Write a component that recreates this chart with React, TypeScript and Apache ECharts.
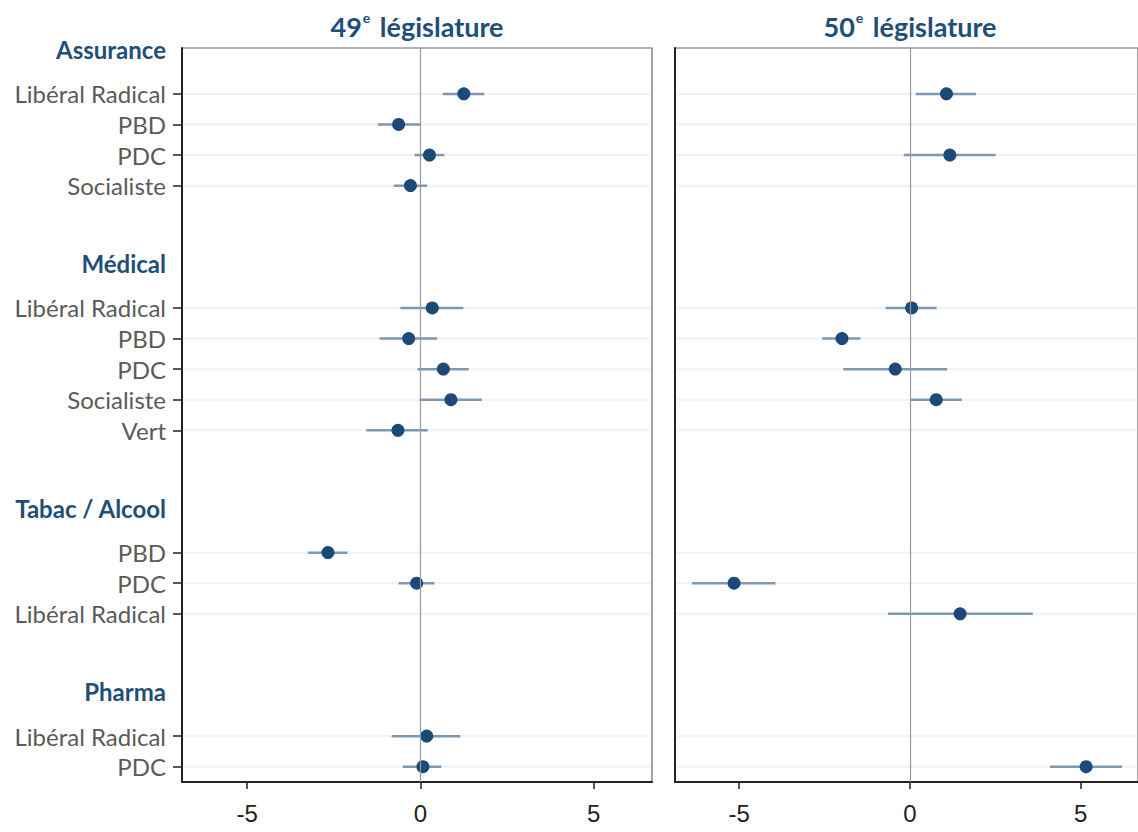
import React, { useEffect, useRef } from "react";
import * as echarts from "echarts";

// ---- data ----
const groups = ["Assurance", "Médical", "Tabac / Alcool", "Pharma"];
const assuranceParties = ["Libéral Radical", "PBD", "PDC", "Socialiste"];
const medicalParties = ["Libéral Radical", "PBD", "PDC", "Socialiste", "Vert"];
const tabacParties = ["PBD", "PDC", "Libéral Radical"];
const pharmaParties = ["Libéral Radical", "PDC"];
const partiesByGroup = [assuranceParties, medicalParties, tabacParties, pharmaParties];

// order: Assurance(4), Médical(5), Tabac(3), Pharma(2)
const est49 = [1.25, -0.63, 0.26, -0.29, 0.34, -0.34, 0.66, 0.88, -0.65, -2.67, -0.11, null, 0.18, 0.07];
const lo49 = [0.64, -1.23, -0.17, -0.77, -0.58, -1.18, -0.08, -0.03, -1.56, -3.25, -0.63, null, -0.83, -0.51];
const hi49 = [1.84, 0.0, 0.69, 0.19, 1.24, 0.48, 1.39, 1.77, 0.21, -2.11, 0.4, null, 1.15, 0.6];

const est50 = [1.07, null, 1.17, null, 0.05, -1.99, -0.43, 0.77, null, null, -5.15, 1.47, null, 5.16];
const lo50 = [0.17, null, -0.18, null, -0.71, -2.57, -1.95, 0.01, null, null, -6.38, -0.64, null, 4.1];
const hi50 = [1.94, null, 2.51, null, 0.78, -1.45, 1.09, 1.52, null, null, -3.94, 3.6, null, 6.21];

const xTicks = [-5, 0, 5];
const panelTitles = [["49", "e", " législature"], ["50", "e", " législature"]];

// build category slots: header, items..., two gaps between groups
const slots: string[] = [];
const itemSlotIndex: number[] = [];
groups.forEach((g, gi) => {
  if (gi > 0) {
    slots.push("gap" + gi + "a");
    slots.push("gap" + gi + "b");
  }
  slots.push("H|" + g);
  partiesByGroup[gi].forEach((p) => {
    itemSlotIndex.push(slots.length);
    slots.push("I|" + g + "|" + p);
  });
});

const DOT = "#1b4a78";
const BAR = "#7d98b3";
const TITLE_BLUE = "#1f4e79";
const LABEL_FONT = "Lato";

function labelFormatter(v: string) {
  if (v.startsWith("H|")) return "{h|" + v.slice(2) + "}";
  if (v.startsWith("I|")) return "{p|" + v.split("|")[2] + "}";
  return "";
}

export default function App() {
  const ref = useRef<HTMLDivElement>(null);
  useEffect(() => {
    document.body.style.margin = "0";
    const chart = echarts.init(ref.current!, null, { renderer: "svg" });

    const grids = [
      { left: 182, top: 48, width: 470, height: 734 },
      { left: 675, top: 48, width: 470, height: 734 },
    ].map((g) => ({ ...g, show: true, borderColor: "#666", borderWidth: 1.2, backgroundColor: "#fff" }));

    const xAxes = [0, 1].map((i) => ({
      type: "value",
      gridIndex: i,
      min: -6.88,
      max: 6.68,
      axisLine: { show: true, onZero: false, lineStyle: { color: "#222", width: 2 } },
      axisTick: { show: true, customValues: xTicks, length: 7, lineStyle: { color: "#222", width: 1.5 } },
      axisLabel: {
        customValues: xTicks,
        fontSize: 24,
        color: "#222",
        margin: 19,
        fontFamily: "Liberation Sans",
      },
      splitLine: { show: false },
    }));

    const yAxes = [0, 1].map((i) => ({
      type: "category",
      gridIndex: i,
      inverse: true,
      data: slots,
      axisLine: { show: true, onZero: false, lineStyle: { color: "#222", width: 2 } },
      axisTick: {
        show: i === 0,
        alignWithLabel: true,
        length: 9,
        interval: (_idx: number, v: string) => v.startsWith("I|"),
        lineStyle: { color: "#222", width: 1.5 },
      },
      axisLabel: {
        show: i === 0,
        interval: 0,
        margin: 16,
        formatter: labelFormatter,
        rich: {
          h: {
            fontFamily: LABEL_FONT,
            fontWeight: "bold",
            fontSize: 24,
            color: TITLE_BLUE,
            padding: [0, 0, 28, 0],
          },
          p: { fontFamily: LABEL_FONT, fontSize: 24, color: "#5a5a5a" },
        },
      },
      splitLine: { show: false },
    }));

    const series: any[] = [];
    const panels = [
      [est49, lo49, hi49],
      [est50, lo50, hi50],
    ];
    panels.forEach(([est, lo, hi], pi) => {
      // faint row gridlines
      series.push({
        type: "custom",
        xAxisIndex: pi,
        yAxisIndex: pi,
        silent: true,
        z: 1,
        data: itemSlotIndex.map((s) => [0, s]),
        renderItem: (params: any, api: any) => {
          const p = api.coord([0, api.value(1)]);
          const cs = params.coordSys;
          return {
            type: "line",
            shape: { x1: cs.x + 2, y1: p[1], x2: cs.x + cs.width - 2, y2: p[1] },
            style: { stroke: "#f1f1f1", lineWidth: 2 },
          };
        },
      });
      // error bars
      series.push({
        type: "custom",
        xAxisIndex: pi,
        yAxisIndex: pi,
        silent: true,
        z: 3,
        data: itemSlotIndex
          .map((s, k) => (lo[k] === null ? null : [lo[k], hi[k], s]))
          .filter((d) => d !== null),
        encode: { x: [0, 1], y: 2 },
        renderItem: (_params: any, api: any) => {
          const a = api.coord([api.value(0), api.value(2)]);
          const b = api.coord([api.value(1), api.value(2)]);
          return {
            type: "line",
            shape: { x1: a[0], y1: a[1], x2: b[0], y2: b[1] },
            style: { stroke: BAR, lineWidth: 2.5 },
          };
        },
      });
      // points
      series.push({
        type: "scatter",
        xAxisIndex: pi,
        yAxisIndex: pi,
        z: 4,
        symbolSize: 13,
        itemStyle: { color: DOT, opacity: 1 },
        data: itemSlotIndex
          .map((s, k) => (est[k] === null ? null : [est[k], s]))
          .filter((d) => d !== null),
        markLine: {
          silent: true,
          symbol: "none",
          label: { show: false },
          lineStyle: { color: "#9a9a9a", width: 1.2, type: "solid", opacity: 1 },
          emphasis: { disabled: true },
          data: [{ xAxis: 0 }],
        },
      });
    });

    const titleCenters = [417, 910];
    const graphic = panelTitles.map((t, i) => ({
      type: "text",
      x: titleCenters[i],
      y: 26,
      style: {
        text: "{n|" + t[0] + "}{s|" + t[1] + "}{n|" + t[2] + "}",
        align: "center",
        verticalAlign: "middle",
        fill: TITLE_BLUE,
        rich: {
          n: { fontFamily: LABEL_FONT, fontWeight: "bold", fontSize: 27, fill: TITLE_BLUE, lineHeight: 32 },
          s: { fontFamily: LABEL_FONT, fontWeight: "bold", fontSize: 14, fill: TITLE_BLUE, verticalAlign: "top", lineHeight: 14, padding: [0, 3, 18, 1] },
        },
      },
    }));

    chart.setOption({
      animation: false,
      backgroundColor: "#fff",
      grid: grids,
      xAxis: xAxes,
      yAxis: yAxes,
      series,
      graphic,
    });
    return () => chart.dispose();
  }, []);
  return <div ref={ref} style={{ width: 1138, height: 832 }} />;
}
